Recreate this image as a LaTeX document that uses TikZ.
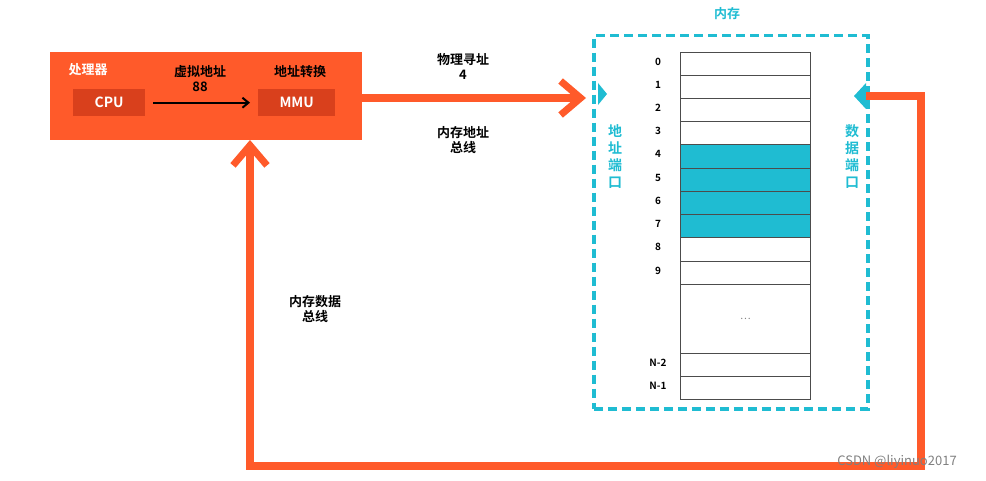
\documentclass[tikz,border=0pt]{standalone}
\usepackage{fontspec}
\setmainfont{Noto Sans CJK SC}[BoldFont={Noto Sans CJK SC Bold}]
\usetikzlibrary{arrows.meta}
\definecolor{org}{HTML}{FF5A2A}
\definecolor{dorg}{HTML}{D9401C}
\definecolor{cyn}{HTML}{1FBCD2}
\tikzset{
  lbl/.style={font=\bfseries\fontsize{13}{15}\selectfont, align=center, inner sep=0},
  cell/.style={draw=black!70, line width=0.8pt, minimum width=130pt, anchor=north west, inner sep=0},
  num/.style={font=\bfseries\fontsize{10}{11}\selectfont, inner sep=0},
  bus/.style={draw=org, line width=8pt},
}
\begin{document}
\begin{tikzpicture}[x=1pt,y=-1pt]
\useasboundingbox (0,0) rectangle (986,481);
% processor
\node[fill=org, minimum width=312pt, minimum height=88pt, anchor=north west, inner sep=0] (proc) at (50,52) {};
\node[lbl, text=white] (pl) at (88,70) {处理器};
\node[fill=dorg, minimum width=72pt, minimum height=27pt, anchor=north west, inner sep=0, text=white, font=\bfseries\fontsize{14}{15}\selectfont] (cpu) at (73,89) {CPU};
\node[fill=dorg, minimum width=77pt, minimum height=27pt, anchor=north west, inner sep=0, text=white, font=\bfseries\fontsize{14}{15}\selectfont] (mmu) at (258,89) {MMU};
\node[lbl] (va) at (200,79) {虚拟地址\\88};
\node[lbl] (at) at (300,72) {地址转换};
\draw[line width=2pt, -{Straight Barb[length=6pt,width=10pt]}] ([xshift=8pt]cpu.east) -- ([xshift=-8pt]mmu.west);
% memory
\node[draw=cyn, dash pattern=on 9pt off 5pt, line width=3.5pt, minimum width=274pt, minimum height=373pt, anchor=north west, inner sep=0] (mem) at (592,34) {};
\node[lbl, text=cyn] (meml) at (727,14) {内存};
\foreach \i/\t/\b/\c in {0/52/75/white,1/75/98/white,2/98/121/white,3/121/144/white,4/144/168/cyn,5/168/191/cyn,6/191/214/cyn,7/214/237/cyn,8/237/261/white,9/261/284/white}{
  \pgfmathsetmacro\h{\b-\t}
  \node[cell, fill=\c, minimum height=\h pt] (r\i) at (680,\t) {};
  \node[num] (n\i) at (658,{(\t+\b)/2-2}) {\i};
}
\node[cell, minimum height=69pt] (rd) at (680,284) {\textcolor{gray}{\dots}};
\node[cell, minimum height=23pt] (rn2) at (680,353) {};
\node[cell, minimum height=23pt] (rn1) at (680,376) {};
\node[num] (nn2) at (658,363) {N-2};
\node[num] (nn1) at (658,386) {N-1};
% ports
\fill[cyn] (598,83) -- (607,94) -- (598,105) -- cycle;
\fill[cyn] (866,83) -- (854,96) -- (866,109) -- cycle;
\node[lbl, text=cyn, font=\bfseries\fontsize{14}{17}\selectfont] (ap) at (615,157) {地\\址\\端\\口};
\node[lbl, text=cyn, font=\bfseries\fontsize{14}{17}\selectfont] (dp) at (852,157) {数\\据\\端\\口};
% address bus
\draw[bus, -{Straight Barb[length=20pt,width=34pt,line width=7pt]}] (proc.east |- 0,98) -- (586,98) coordinate (ae);
\node[lbl] (pa) at (463,66) {物理寻址\\4};
\node[lbl] (ab) at (463,140) {内存地址\\总线};
% data bus
\coordinate (d1) at (866,96);
\coordinate (d2) at (921,96);
\coordinate (d3) at (921,466);
\coordinate (d4) at (250,466);
\coordinate (d5) at (250,140);
\draw[bus, line join=miter, -{Straight Barb[length=20pt,width=34pt,line width=7pt]}] (d1) -- (d2) -- (d3) -- (d4) -- (d5);
\node[lbl] (db) at (315,309) {内存数据\\总线};
\node[font=\fontsize{13}{14}\selectfont, text=gray, inner sep=0] (wm) at (897,462) {CSDN @liyinuo2017};
\end{tikzpicture}
\end{document}
